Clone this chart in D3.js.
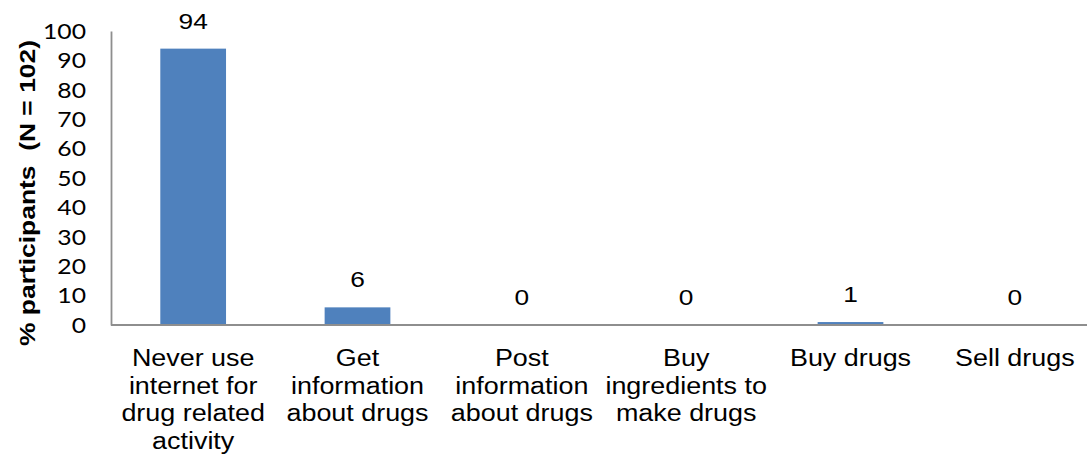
<!DOCTYPE html>
<html>
<head>
<meta charset="utf-8">
<script src="https://cdn.jsdelivr.net/npm/d3@7"></script>
<style>
  html, body { margin: 0; padding: 0; background: #fff; }
  svg { display: block; }
</style>
</head>
<body>
<svg id="chart" width="1087" height="464"></svg>
<script>
// Internet use for drug-related activity, % of participants
const categories = [
  ["Never use", "internet for", "drug related", "activity"],
  ["Get", "information", "about drugs"],
  ["Post", "information", "about drugs"],
  ["Buy", "ingredients to", "make drugs"],
  ["Buy drugs"],
  ["Sell drugs"]
];
const values = [94, 6, 0, 0, 1, 0];
const yTicks = [0, 10, 20, 30, 40, 50, 60, 70, 80, 90, 100];
const yTitle = "% participants  (N = 102)";

const svg = d3.select("#chart");
const plotLeft = 111, plotRight = 1097, plotTop = 31, plotBottom = 325;
const widen = 1.17;              // horizontal glyph stretch of the text
const arial = "Liberation Sans, Arial, sans-serif";
const calibriLike = "Lato, Carlito, sans-serif";

const x = d3.scaleBand()
  .domain(d3.range(categories.length))
  .range([plotLeft, plotRight])
  .paddingInner(0.6)
  .paddingOuter(0.3);

const y = d3.scaleLinear().domain([0, 100]).range([plotBottom, plotTop]);

const axisColor = "#8e8e8e";

// bars
svg.append("g").selectAll("rect")
  .data(values)
  .join("rect")
  .attr("x", (d, i) => x(i))
  .attr("width", x.bandwidth())
  .attr("y", d => y(d))
  .attr("height", d => y(0) - y(d))
  .attr("fill", "#4f81bd");

// value labels
svg.append("g").selectAll("text")
  .data(values)
  .join("text")
  .attr("transform", (d, i) =>
    `translate(${x(i) + x.bandwidth() / 2},${y(d) - 20}) scale(${widen},1)`)
  .attr("text-anchor", "middle")
  .attr("font-family", arial)
  .attr("font-size", 22.5)
  .attr("fill", "#000")
  .text(d => d);

// y axis
const yAxis = svg.append("g")
  .attr("transform", `translate(${plotLeft},0)`)
  .call(d3.axisLeft(y).tickValues(yTicks).tickSize(0).tickFormat(""));
yAxis.select(".domain").attr("stroke", axisColor).attr("stroke-width", 1.8);
yAxis.selectAll(".tick").append("text")
  .attr("transform", `translate(-25,0) scale(1.15,1)`)
  .attr("text-anchor", "end")
  .attr("dy", "0.34em")
  .attr("font-family", calibriLike)
  .attr("font-size", 21.5)
  .attr("fill", "#000")
  .text(d => d);

// x axis
const xAxis = svg.append("g")
  .attr("transform", `translate(0,${plotBottom})`)
  .call(d3.axisBottom(x).tickSize(0).tickFormat(""));
xAxis.select(".domain").attr("stroke", axisColor).attr("stroke-width", 1.8)
  .attr("d", `M${plotLeft},0H1087`);

// category labels
const catG = svg.append("g").selectAll("text")
  .data(categories)
  .join("text")
  .attr("transform", (d, i) => `translate(${x(i) + x.bandwidth() / 2},0) scale(${widen},1)`)
  .attr("text-anchor", "middle")
  .attr("font-family", arial)
  .attr("font-size", 23)
  .attr("fill", "#000");
catG.selectAll("tspan")
  .data(d => d)
  .join("tspan")
  .attr("x", 0)
  .attr("y", (d, j) => 366 + j * 27.6)
  .text(d => d);

// y-axis title
svg.append("text")
  .attr("transform", "translate(35,193) rotate(-90)")
  .attr("text-anchor", "middle")
  .attr("font-family", arial)
  .attr("font-weight", "bold")
  .attr("font-size", 22)
  .attr("textLength", 306)
  .attr("lengthAdjust", "spacingAndGlyphs")
  .attr("fill", "#000")
  .style("white-space", "pre")
  .text(yTitle);
</script>
</body>
</html>
